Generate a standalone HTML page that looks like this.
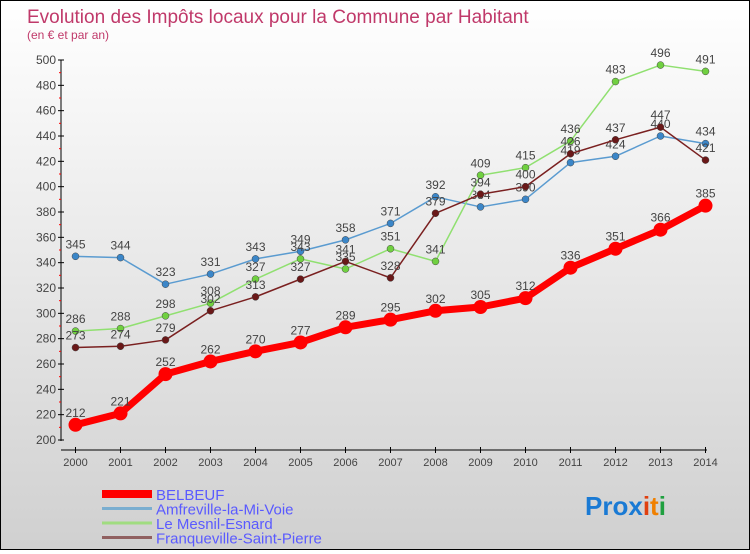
<!DOCTYPE html>
<html><head><meta charset="utf-8"><style>
body{margin:0;width:750px;height:550px;overflow:hidden;font-family:"Liberation Sans",sans-serif}
#wrap{position:relative;width:748px;height:548px;border:1px solid #000;background:linear-gradient(#fff,#d0d0d0)}
</style></head><body>
<div id="wrap">
<svg id="chart" width="748" height="548">
<text x="26" y="22" font-size="19" fill="#c0396a">Evolution des Impôts locaux pour la Commune par Habitant</text>
<text x="26" y="38" font-size="12" fill="#c0396a">(en € et par an)</text>
<text x="584" y="514" font-size="26" font-weight="bold"><tspan fill="#1a7ad4">Pro</tspan><tspan fill="#1a7ad4">x</tspan><tspan fill="#e04010">i</tspan><tspan fill="#f08000">t</tspan><tspan fill="#20a040">i</tspan></text>
</svg>
</div>
<script>
const years=[2000,2001,2002,2003,2004,2005,2006,2007,2008,2009,2010,2011,2012,2013,2014];
const belbeuf=[212,221,252,262,270,277,289,295,302,305,312,336,351,366,385];
const amfreville=[345,344,323,331,343,349,358,371,392,384,390,419,424,440,434];
const mesnil=[286,288,298,308,327,343,335,351,341,409,415,436,483,496,491];
const franqueville=[273,274,279,302,313,327,341,328,379,394,400,426,437,447,421];
const yTicks=[200,220,240,260,280,300,320,340,360,380,400,420,440,460,480,500];
const seriesNames=["BELBEUF","Amfreville-la-Mi-Voie","Le Mesnil-Esnard","Franqueville-Saint-Pierre"];
const NS="http://www.w3.org/2000/svg";
const svg=document.getElementById('chart');
const X=i=>74.5+i*45;
const Y=v=>439-(v-200)*380/300;
function mk(t,a,p){const e=document.createElementNS(NS,t);for(const k in a)e.setAttribute(k,a[k]);(p||svg).appendChild(e);return e;}
// axes
let ax=mk('line',{x1:60,y1:59,x2:60,y2:440,stroke:'#000'});


let xa=mk('line',{x1:60,y1:449,x2:706,y2:449,stroke:'#000'});


yTicks.forEach(v=>{
 mk('line',{x1:57,y1:Y(v),x2:63,y2:Y(v),stroke:'#000'});
 if(v<500)mk('line',{x1:58,y1:Y(v+10),x2:60,y2:Y(v+10),stroke:'#f00'});
 const t=mk('text',{x:55,y:Y(v)+4,'font-size':12,'text-anchor':'end',fill:'#444'});t.textContent=v;
 
 
});
years.forEach((yr,i)=>{
 mk('line',{x1:X(i),y1:446,x2:X(i),y2:452,stroke:'#000'});
 const t=mk('text',{x:X(i),y:465,'font-size':11,'text-anchor':'middle',fill:'#444'});t.textContent=yr;
 
 
});
const defs=[[amfreville,'#5a9bd0','#3b86c8',1.5,3.5,'amfreville'],[mesnil,'#90e070','#70d040',1.5,3.5,'mesnil'],[franqueville,'#7a2020','#6a1818',1.5,3.5,'franqueville'],[belbeuf,'#ff0000','#ff0000',7,7,'belbeuf']];
defs.forEach(([d,lc,pc,w,r,n])=>{
 const g=mk('g',{});
 
 
 mk('polyline',{points:d.map((v,i)=>X(i)+','+Y(v)).join(' '),fill:'none',stroke:lc,'stroke-width':w,'stroke-linejoin':'round'},g);
 d.forEach((v,i)=>{
  const c=mk('circle',{cx:X(i),cy:Y(v),r:r,fill:pc,stroke:n=='belbeuf'?'none':'#444','stroke-width':0.5},g);
  
  
  const t=mk('text',{x:X(i),y:Y(v)-8,'font-size':12,'text-anchor':'middle',fill:'#444'},g);t.textContent=v;
 });
});
const lc=['#ff0000','#7aaed0','#a0dc80','#906060'],lw=[8,3,3,3];
seriesNames.forEach((s,i)=>{
 const y=493+i*14.5;
 const l=mk('line',{x1:101,y1:y,x2:151,y2:y,stroke:lc[i],'stroke-width':lw[i]});
 
 
 const t=mk('text',{x:155,y:y+6,'font-size':15,fill:'#5a5aff'});t.textContent=s;
 
 
});
</script>
</body></html>
